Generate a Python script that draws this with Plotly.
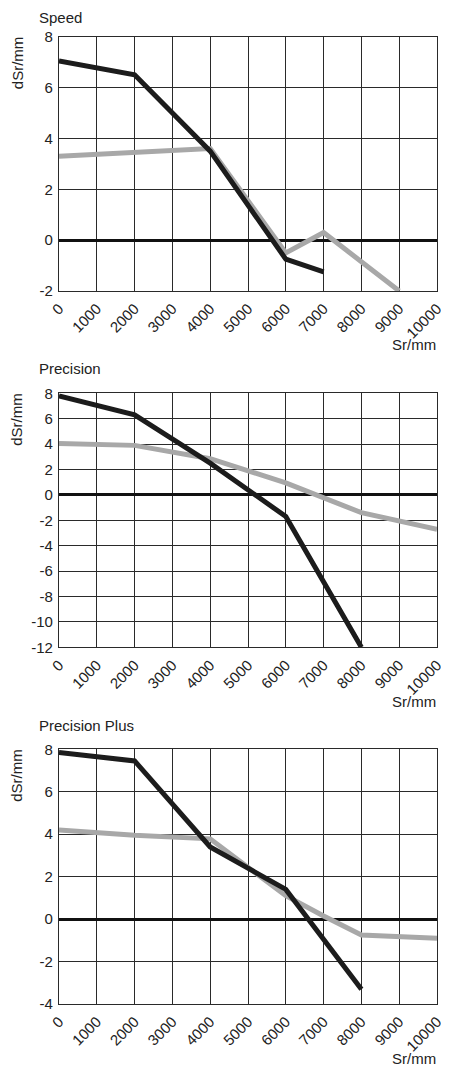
import plotly.graph_objects as go

# ---- data ----
x_speed_black = [0, 2000, 4000, 6000, 7000]
y_speed_black = [7.05, 6.5, 3.5, -0.75, -1.25]
x_speed_gray = [0, 2000, 4000, 6000, 7000, 9000]
y_speed_gray = [3.3, 3.45, 3.6, -0.5, 0.3, -2.0]

x_prec_black = [0, 2000, 4000, 6000, 8000]
y_prec_black = [7.8, 6.3, 2.5, -1.7, -12.0]
x_prec_gray = [0, 2000, 4000, 6000, 8000, 10000]
y_prec_gray = [4.05, 3.9, 2.85, 0.95, -1.4, -2.7]

x_plus_black = [0, 2000, 4000, 6000, 8000]
y_plus_black = [7.85, 7.45, 3.4, 1.4, -3.3]
x_plus_gray = [0, 2000, 4000, 6000, 7000, 8000, 10000]
y_plus_gray = [4.2, 3.95, 3.78, 1.1, 0.15, -0.75, -0.9]

panel_titles = ["Speed", "Precision", "Precision Plus"]
y_ranges = [(-2, 8), (-12, 8), (-4, 8)]
x_ticks = list(range(0, 10001, 1000))

# page has an 8px body margin; figure is sized so it fits the window
OFF = 8
W, H = 449 - OFF, 1074 - OFF
BLACK = "#1c1c1c"
GRAY = "#a8a8a8"
FONT = "Liberation Sans, Arial, sans-serif"

# target window-pixel geometry (top, bottom) of each plot area
px_left, px_right = 59, 437
panels_px = [(36.7, 291.0), (393.3, 647.3), (749.3, 1004.0)]
title_py = [17.5, 368.0, 725.0]


def fx(px):
    return (px - OFF) / W


def fy(py):
    return 1 - (py - OFF) / H


fig = go.Figure()
series = [
    (x_speed_black, y_speed_black, x_speed_gray, y_speed_gray),
    (x_prec_black, y_prec_black, x_prec_gray, y_prec_gray),
    (x_plus_black, y_plus_black, x_plus_gray, y_plus_gray),
]

annotations = []
for i, ((xb, yb, xg, yg), (top, bot), title, yr, tpy) in enumerate(
        zip(series, panels_px, panel_titles, y_ranges, title_py)):
    n = "" if i == 0 else str(i + 1)
    xa, ya = "x" + n, "y" + n
    fig.add_trace(go.Scatter(x=xg, y=yg, mode="lines", xaxis=xa, yaxis=ya,
                             line=dict(color=GRAY, width=5), showlegend=False))
    fig.add_trace(go.Scatter(x=xb, y=yb, mode="lines", xaxis=xa, yaxis=ya,
                             line=dict(color=BLACK, width=5), showlegend=False))
    y_ticks = list(range(yr[0], yr[1] + 1, 2))
    axis_common = dict(showgrid=True, gridcolor="#2a2a2a", gridwidth=1.3,
                       showline=True, linecolor="#2a2a2a", linewidth=1.3, mirror=True,
                       tickfont=dict(family=FONT, size=15, color="#222"),
                       automargin=False, fixedrange=True)
    fig.update_layout(**{
        "xaxis" + n: dict(domain=[fx(px_left), fx(px_right)], range=[0, 10000],
                          tickvals=x_ticks, ticktext=[str(v) for v in x_ticks],
                          tickangle=-45, anchor=ya, zeroline=False,
                          ticks="outside", ticklen=2, tickcolor="rgba(0,0,0,0)",
                          **axis_common),
        "yaxis" + n: dict(domain=[fy(bot), fy(top)], range=list(yr), anchor=xa,
                          tickvals=y_ticks, ticktext=[str(v) for v in y_ticks],
                          zeroline=True, zerolinecolor="#111", zerolinewidth=3,
                          ticks="outside", ticklen=2, tickcolor="rgba(0,0,0,0)",
                          **axis_common),
    })
    # panel title
    annotations.append(dict(text=title, x=fx(37), y=fy(tpy), xref="paper", yref="paper",
                            xanchor="left", yanchor="middle", showarrow=False,
                            font=dict(family=FONT, size=15, color="#222")))
    # y-axis title
    annotations.append(dict(text="dSr/mm", x=fx(17), y=fy(top - 2), xref="paper", yref="paper",
                            xanchor="center", yanchor="top", textangle=-90, showarrow=False,
                            font=dict(family=FONT, size=15, color="#222")))
    # x-axis title
    annotations.append(dict(text="Sr/mm", x=fx(438), y=fy(bot + 54), xref="paper", yref="paper",
                            xanchor="right", yanchor="middle", showarrow=False,
                            font=dict(family=FONT, size=15, color="#222")))

fig.update_layout(width=W, height=H, margin=dict(l=0, r=0, t=0, b=0),
                  paper_bgcolor="white", plot_bgcolor="white",
                  annotations=annotations, showlegend=False)

fig.write_html("out.html")
